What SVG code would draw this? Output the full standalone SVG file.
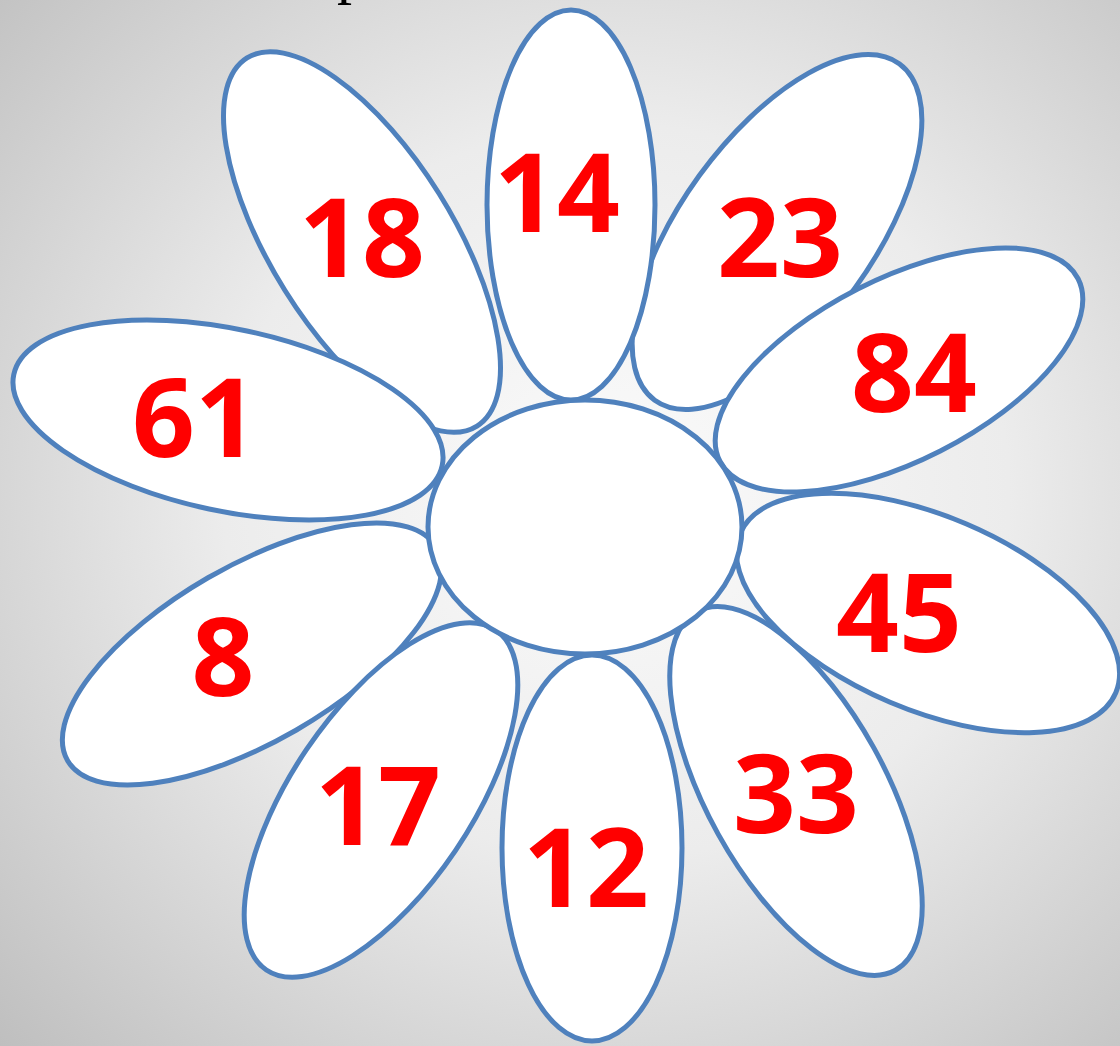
<svg xmlns="http://www.w3.org/2000/svg" width="1120" height="1046" viewBox="0 0 1120 1046">
<defs>
<radialGradient id="bg" cx="0.55" cy="0.47" r="0.78">
<stop offset="0" stop-color="#fbfbfb"/>
<stop offset="0.45" stop-color="#ececec"/>
<stop offset="1" stop-color="#bdbdbd"/>
</radialGradient>
<style>
.p{fill:#ffffff;stroke:#4f81bd;stroke-width:5}
.t{font-family:"Open Sans","Liberation Sans",sans-serif;font-weight:700;font-size:110px;fill:#ff0000;text-anchor:middle}
</style>
</defs>
<rect width="1120" height="1046" fill="url(#bg)"/>
<text x="337" y="-8" font-family="Liberation Serif,serif" font-size="60" fill="#000">p</text>
<g id="petal-18"><ellipse class="p" cx="362" cy="242" rx="217" ry="91" transform="rotate(58 362 242)"/><text class="t" x="362" y="277">18</text></g>
<g id="petal-23"><ellipse class="p" cx="777" cy="232" rx="208" ry="96" transform="rotate(-54 777 232)"/><text class="t" x="780" y="277">23</text></g>
<g id="petal-14"><ellipse class="p" cx="571" cy="205" rx="84" ry="195"/><text class="t" x="557" y="232">14</text></g>
<g id="petal-61"><ellipse class="p" cx="228" cy="420" rx="219" ry="91" transform="rotate(12 228 420)"/><text class="t" x="195" y="457">61</text></g>
<g id="petal-84"><ellipse class="p" cx="899" cy="370" rx="201" ry="91" transform="rotate(-27 899 370)"/><text class="t" x="914" y="412">84</text></g>
<g id="petal-8"><ellipse class="p" cx="252" cy="654" rx="213" ry="88" transform="rotate(-30 252 654)"/><text class="t" x="223" y="696">8</text></g>
<g id="petal-33"><ellipse class="p" cx="796" cy="791" rx="205" ry="89" transform="rotate(61 796 791)"/><text class="t" x="796" y="833">33</text></g>
<g id="petal-45"><ellipse class="p" cx="928" cy="613" rx="204" ry="97" transform="rotate(23 928 613)"/><text class="t" x="899" y="652">45</text></g>
<g id="petal-17"><ellipse class="p" cx="381" cy="800" rx="205" ry="90" transform="rotate(-56 381 800)"/><text class="t" x="378" y="845">17</text></g>
<g id="petal-12"><ellipse class="p" cx="592" cy="848" rx="90" ry="193"/><text class="t" x="586" y="907">12</text></g>
<g id="center"><ellipse class="p" cx="585" cy="527" rx="157" ry="127"/></g>
<g id="connectors"/>
</svg>
